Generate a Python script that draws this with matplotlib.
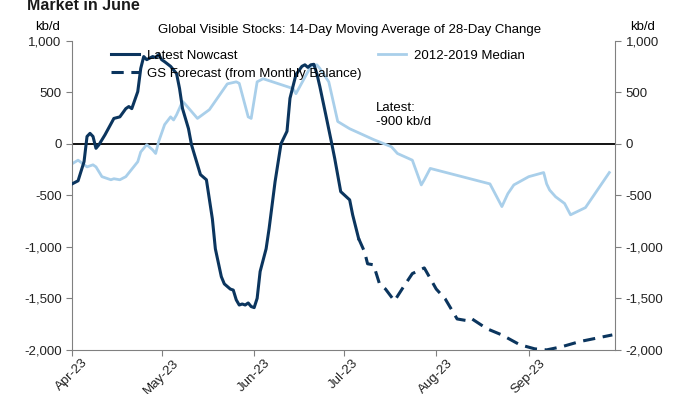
import matplotlib
matplotlib.use("Agg")
import matplotlib.pyplot as plt
import matplotlib.dates as mdates
import pandas as pd

plt.rcParams['font.family'] = ['Liberation Sans', 'DejaVu Sans']

# 14-day MA of 28-day change, kb/d
nowcast_dates = ["2023-04-01", "2023-04-03", "2023-04-05", "2023-04-06", "2023-04-07", "2023-04-08",
                 "2023-04-09", "2023-04-10", "2023-04-12", "2023-04-15", "2023-04-17", "2023-04-19",
                 "2023-04-20", "2023-04-21", "2023-04-23", "2023-04-24", "2023-04-25", "2023-04-26",
                 "2023-04-28", "2023-04-29", "2023-04-30", "2023-05-01", "2023-05-02", "2023-05-04",
                 "2023-05-06", "2023-05-07", "2023-05-08", "2023-05-10", "2023-05-11", "2023-05-14",
                 "2023-05-16", "2023-05-18", "2023-05-19", "2023-05-21", "2023-05-22", "2023-05-24",
                 "2023-05-25", "2023-05-26", "2023-05-27", "2023-05-28", "2023-05-29", "2023-05-30",
                 "2023-05-31", "2023-06-01", "2023-06-02", "2023-06-03", "2023-06-05", "2023-06-06",
                 "2023-06-08", "2023-06-10", "2023-06-12", "2023-06-13", "2023-06-15", "2023-06-17",
                 "2023-06-18", "2023-06-19", "2023-06-20", "2023-06-21", "2023-06-22", "2023-06-23",
                 "2023-06-25", "2023-06-27", "2023-06-28", "2023-06-30", "2023-07-03", "2023-07-04",
                 "2023-07-06"]
nowcast = [-390, -360, -175, 70, 100, 70,
           -45, -10, 85, 245, 260, 340,
           360, 340, 505, 730, 845, 815,
           845, 835, 865, 815, 795, 750,
           680, 535, 340, 145, -10, -300,
           -350, -730, -1020, -1290, -1360, -1410,
           -1420, -1515, -1565, -1555, -1565, -1545,
           -1580, -1590, -1500, -1240, -1020, -825,
           -370, 0, 120, 440, 670, 750,
           765, 740, 765, 770, 680, 555,
           280, 0, -145, -465, -545, -690,
           -920]

forecast_dates = ["2023-07-06", "2023-07-08", "2023-07-09", "2023-07-11", "2023-07-13", "2023-07-15",
                  "2023-07-18", "2023-07-21", "2023-07-24", "2023-07-28", "2023-08-01", "2023-08-04",
                  "2023-08-08", "2023-08-12", "2023-08-13", "2023-08-18", "2023-08-23", "2023-08-29",
                  "2023-09-03", "2023-09-07", "2023-09-12", "2023-09-18", "2023-09-29"]
forecast = [-920, -1050, -1165, -1175, -1360, -1410,
            -1525, -1390, -1260, -1205, -1410, -1505,
            -1700, -1720, -1700, -1795, -1855, -1950,
            -1990, -2000, -1970, -1920, -1855]

median_dates = ["2023-04-01", "2023-04-03", "2023-04-06", "2023-04-08", "2023-04-09", "2023-04-11",
                "2023-04-14", "2023-04-15", "2023-04-17", "2023-04-19", "2023-04-23", "2023-04-24",
                "2023-04-26", "2023-04-28", "2023-04-29", "2023-04-30", "2023-05-02", "2023-05-04",
                "2023-05-05", "2023-05-06", "2023-05-08", "2023-05-09", "2023-05-13", "2023-05-17",
                "2023-05-23", "2023-05-26", "2023-05-27", "2023-05-30", "2023-05-31", "2023-06-02",
                "2023-06-04", "2023-06-14", "2023-06-15", "2023-06-20", "2023-06-22", "2023-06-23",
                "2023-06-26", "2023-06-29", "2023-07-03", "2023-07-11", "2023-07-17", "2023-07-19",
                "2023-07-24", "2023-07-27", "2023-07-28", "2023-07-30", "2023-08-19", "2023-08-23",
                "2023-08-25", "2023-08-27", "2023-09-01", "2023-09-06", "2023-09-07", "2023-09-08",
                "2023-09-10", "2023-09-13", "2023-09-15", "2023-09-20", "2023-09-28"]
median = [-195, -160, -225, -205, -225, -320,
          -350, -340, -350, -320, -175, -80,
          -10, -60, -95, 20, 185, 260,
          230, 280, 410, 380, 245, 330,
          580, 600, 585, 260, 245, 600,
          630, 535, 485, 750, 765, 730,
          600, 215, 145, 40, -30, -95,
          -160, -400, -350, -240, -390, -610,
          -485, -400, -320, -280, -390, -450,
          -515, -580, -690, -620, -280]

yticks = [-2000, -1500, -1000, -500, 0, 500, 1000]

navy = "#0b355e"
light = "#a9cfea"
grey = "#808080"

fig = plt.figure(figsize=(7, 3.94), dpi=100)
ax = fig.add_axes([0.103, 0.112, 0.776, 0.785])

ax.plot(pd.to_datetime(median_dates), median, color=light, lw=2, label="2012-2019 Median", zorder=2)
ax.plot(pd.to_datetime(nowcast_dates), nowcast, color=navy, lw=2.2, label="Latest Nowcast", zorder=3)
ax.plot(pd.to_datetime(forecast_dates), forecast, color=navy, lw=2.2, ls=(0, (4, 2.5)),
        label="GS Forecast (from Monthly Balance)", zorder=3)
ax.axhline(0, color="black", lw=1.3, zorder=1)

ax.set_xlim(pd.Timestamp("2023-04-01"), pd.Timestamp("2023-09-30"))
ax.set_ylim(-2000, 1000)
ax.set_yticks(yticks)
ax.set_yticklabels([f"{v:,}" for v in yticks])
ax.xaxis.set_major_locator(mdates.MonthLocator())
ax.xaxis.set_major_formatter(mdates.DateFormatter("%b-%y"))
plt.setp(ax.get_xticklabels(), rotation=45, ha="center")

ax.spines["top"].set_visible(False)
for s in ["left", "right", "bottom"]:
    ax.spines[s].set_color(grey)
ax.tick_params(axis="both", colors=grey, labelcolor="#222222", labelsize=9.5, length=4)
ax.tick_params(axis="x", pad=1)
ax.tick_params(axis="y", right=True, labelright=True)

# legend: handles in order nowcast, forecast, median
h, l = ax.get_legend_handles_labels()
ax.legend([h[1], h[2], h[0]], [l[1], l[2], l[0]], ncol=2, frameon=False, fontsize=9.5,
          loc="upper left", bbox_to_anchor=(0.05, 1.01), handlelength=2.1,
          handletextpad=0.6, columnspacing=1.3, labelspacing=0.45)

ax.text(0.56, 0.76, "Latest:\n-900 kb/d", transform=ax.transAxes, fontsize=9.5, va="center")
fig.text(0.05, 0.925, "kb/d", fontsize=9.5, ha="left")
fig.text(0.9, 0.925, "kb/d", fontsize=9.5, ha="left")
fig.text(0.5, 0.915, "Global Visible Stocks: 14-Day Moving Average of 28-Day Change",
         fontsize=9.5, ha="center")
fig.text(0.038, 1.005, "Market in June", fontsize=11.5, fontweight="bold", color="#1a1a1a",
         ha="left", va="top")

fig.savefig("out.png", dpi=100)
